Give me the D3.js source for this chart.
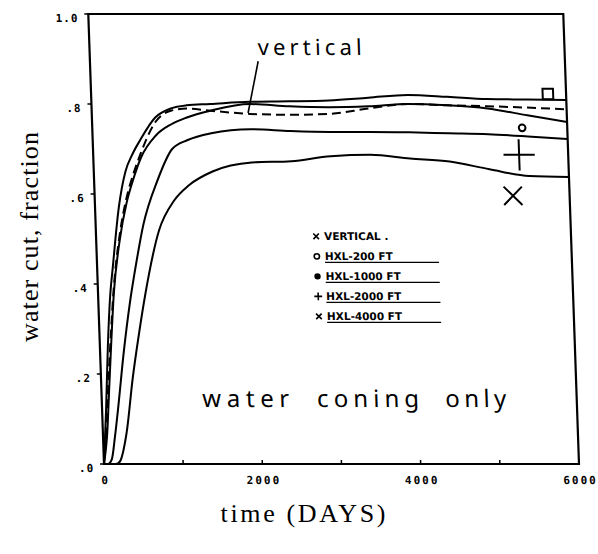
<!DOCTYPE html>
<html>
<head>
<meta charset="utf-8">
<script src="https://cdn.jsdelivr.net/npm/d3@7"></script>
<style>
  body { margin: 0; background: #fff; }
  svg { display: block; }
</style>
</head>
<body>
<div id="chart"></div>
<script>
// values (water cut vs time in days)
var days = [0, 50, 100, 150, 200, 300, 400, 500, 600, 800, 1000, 1200, 1500, 2000, 2500, 3000, 3500, 4000, 4500, 5000, 5500, 6000];
var vertical = [0, .09, .2, .3, .39, .51, .59, .645, .69, .76, .785, .79, .785, .778, .776, .778, .79, .80, .797, .795, .792, .788];
var hxl200 = [0, .06, .17, .28, .38, .50, .58, .635, .68, .73, .755, .77, .785, .80, .795, .793, .795, .80, .797, .79, .775, .76];
var hxl1000 = [0, .12, .26, .37, .44, .57, .65, .69, .72, .77, .79, .797, .80, .805, .806, .808, .814, .82, .816, .811, .81, .809];
var hxl2000 = [0, 0, .01, .06, .12, .25, .36, .45, .53, .63, .70, .72, .735, .744, .74, .738, .738, .737, .735, .733, .728, .722];
var hxl4000 = [0, 0, 0, 0, .005, .07, .19, .29, .38, .52, .585, .62, .65, .67, .673, .684, .687, .679, .672, .655, .64, .638];

var seriesNames = ["VERTICAL .", "HXL-200 FT", "HXL-1000 FT", "HXL-2000 FT", "HXL-4000 FT"];
var seriesValues = [vertical, hxl200, hxl1000, hxl2000, hxl4000];
var seriesDash = [true, false, false, false, false];

var xTickValues = [0, 2000, 4000, 6000];
var xMinorTicks = [1000, 3000, 5000];
var yTickValues = [0, .2, .4, .6, .8, 1];
var yTickLabels = [".0", ".2", ".4", ".6", ".8", "1.0"];

var width = 598, height = 554;

var svg = d3.select("#chart").append("svg")
  .attr("width", width)
  .attr("height", height);

var x = d3.scaleLinear().domain([0, 6000]).range([104, 579]);
var y = d3.scaleLinear().domain([0, 1]).range([464, 14]);

// the scan is a little slanted, so the plot area is skewed a bit
var plot = svg.append("g")
  .attr("transform", "translate(0," + y(0) + ") skewX(2) translate(0," + (-y(0)) + ")");

// frame
plot.append("rect")
  .attr("x", x(0))
  .attr("y", y(1))
  .attr("width", x(6000) - x(0))
  .attr("height", y(0) - y(1))
  .style("fill", "none")
  .style("stroke", "#000")
  .style("stroke-width", 2.2);

// y ticks (outside, left)
plot.selectAll(".ytick")
  .data(yTickValues)
  .enter().append("line")
  .attr("x1", x(0) - 4)
  .attr("x2", x(0))
  .attr("y1", function(d) { return y(d); })
  .attr("y2", function(d) { return y(d); })
  .style("stroke", "#000")
  .style("stroke-width", 1.5);

plot.selectAll(".ylab")
  .data(yTickValues)
  .enter().append("text")
  .attr("x", x(0) - 10)
  .attr("y", function(d) { return y(d) + 4; })
  .attr("dy", "0.35em")
  .attr("text-anchor", "end")
  .style("font-family", "'DejaVu Sans Mono', monospace")
  .style("font-weight", "bold")
  .style("font-size", "11px")
  .style("letter-spacing", "1px")
  .text(function(d, i) { return yTickLabels[i]; });

// x ticks (inside, up)
plot.selectAll(".xtick")
  .data(xTickValues.concat(xMinorTicks))
  .enter().append("line")
  .attr("x1", function(d) { return x(d); })
  .attr("x2", function(d) { return x(d); })
  .attr("y1", y(0))
  .attr("y2", y(0) - 4)
  .style("stroke", "#000")
  .style("stroke-width", 1.5);

plot.selectAll(".xlab")
  .data(xTickValues)
  .enter().append("text")
  .attr("x", function(d) { return x(d) + 1; })
  .attr("y", y(0) + 20)
  .attr("text-anchor", "middle")
  .style("font-family", "'DejaVu Sans Mono', monospace")
  .style("font-weight", "bold")
  .style("font-size", "11px")
  .style("letter-spacing", "2px")
  .text(function(d) { return d; });

// curves
var line = d3.line()
  .x(function(d, i) { return x(days[i]); })
  .y(function(d) { return y(d); })
  .curve(d3.curveMonotoneX);

plot.selectAll(".curve")
  .data(seriesValues)
  .enter().append("path")
  .attr("class", "curve")
  .attr("d", line)
  .style("fill", "none")
  .style("stroke", "#000")
  .style("stroke-width", 2)
  .style("stroke-dasharray", function(d, i) { return seriesDash[i] ? "9,5" : null; });

// handwritten "vertical" note with pointer
plot.append("line")
  .attr("x1", x(2125))
  .attr("y1", y(0.895))
  .attr("x2", x(1975))
  .attr("y2", y(0.78))
  .style("stroke", "#000")
  .style("stroke-width", 1.6);

plot.append("text")
  .attr("x", x(2125))
  .attr("y", y(0.909))
  .attr("textLength", 104)
  .style("font-family", "'Noto Sans', sans-serif")
  .style("font-size", "22px")
  .text("vertical");

// end-of-curve symbols drawn by hand
var endMarks = [
  { day: 5770, v: 0.822, type: "square" },
  { day: 5430, v: 0.747, type: "circle" },
  { day: 5380, v: 0.687, type: "plus" },
  { day: 5285, v: 0.596, type: "times" }
];
var symType = {
  square: d3.symbolSquare2 || d3.symbolSquare,
  circle: d3.symbolCircle,
  plus: d3.symbolPlus || d3.symbolCross,
  times: d3.symbolTimes || d3.symbolX || d3.symbolCross
};
var symSize = { square: 140, circle: 35, plus: 320, times: 220 };

plot.selectAll(".endmark")
  .data(endMarks)
  .enter().append("path")
  .attr("transform", function(d) { return "translate(" + x(d.day) + "," + y(d.v) + ")"; })
  .attr("d", function(d) { return d3.symbol().type(symType[d.type]).size(symSize[d.type])(); })
  .style("fill", "none")
  .style("stroke", "#000")
  .style("stroke-width", 2);

// legend
var legendDay = 2780, legendTop = 0.506, legendStep = 0.0445;
var legendSym = [symType.times, d3.symbolCircle, d3.symbolCircle, symType.plus, symType.times];
var legendFill = ["none", "none", "#000", "none", "none"];

var legend = plot.selectAll(".leg")
  .data(seriesNames)
  .enter().append("g")
  .attr("transform", function(d, i) {
    return "translate(" + x(legendDay) + "," + y(legendTop - i * legendStep) + ")";
  });

legend.append("path")
  .attr("d", function(d, i) { return d3.symbol().type(legendSym[i]).size(i == 2 ? 18 : 22)(); })
  .style("fill", function(d, i) { return legendFill[i]; })
  .style("stroke", "#000")
  .style("stroke-width", 1.6);

legend.append("text")
  .attr("x", 8)
  .attr("y", 4)
  .style("font-family", "'DejaVu Sans', sans-serif")
  .style("font-weight", "bold")
  .style("font-size", "10.5px")
  .text(function(d) { return d; });

legend.filter(function(d, i) { return i > 0; })
  .append("line")
  .attr("x1", 8)
  .attr("x2", 122)
  .attr("y1", 6)
  .attr("y2", 6)
  .style("stroke", "#000")
  .style("stroke-width", 1.3);

// "water coning only" note
var noteWords = ["water", "coning", "only"];
var noteDays = [1270, 2720, 4340];
var noteLen = [87, 102, 61];
plot.selectAll(".note")
  .data(noteWords)
  .enter().append("text")
  .attr("x", function(d, i) { return x(noteDays[i]); })
  .attr("y", y(0.127))
  .attr("textLength", function(d, i) { return noteLen[i]; })
  .style("font-family", "'Noto Sans', sans-serif")
  .style("font-size", "24px")
  .text(function(d) { return d; });

// axis titles
svg.append("text")
  .attr("x", 303)
  .attr("y", 522)
  .attr("text-anchor", "middle")
  .attr("textLength", 165)
  .style("font-family", "'Liberation Serif', serif")
  .style("font-size", "26px")
  .text("time (DAYS)");

svg.append("text")
  .attr("transform", "translate(38,237) rotate(-90)")
  .attr("text-anchor", "middle")
  .attr("textLength", 210)
  .style("font-family", "'Liberation Serif', serif")
  .style("font-size", "26px")
  .text("water cut, fraction");
</script>
</body>
</html>
